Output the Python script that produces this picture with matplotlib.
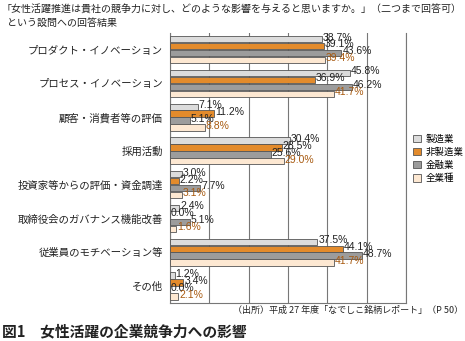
import numpy as np
import matplotlib.pyplot as plt

plt.rcParams['font.family'] = ['Noto Sans CJK JP', 'DejaVu Sans']

categories = ['プロダクト・イノベーション', 'プロセス・イノベーション', '顧客・消費者等の評価',
              '採用活動', '投資家等からの評価・資金調達', '取締役会のガバナンス機能改善',
              '従業員のモチベーション等', 'その他']
series_names = ['製造業', '非製造業', '金融業', '全業種']
manufacturing = [38.7, 45.8, 7.1, 30.4, 3.0, 2.4, 37.5, 1.2]
non_manufacturing = [39.1, 36.9, 11.2, 28.5, 2.2, 0.0, 44.1, 3.4]
finance = [43.6, 46.2, 5.1, 25.6, 7.7, 5.1, 48.7, 0.0]
all_industries = [39.4, 41.7, 8.8, 29.0, 3.1, 1.6, 41.7, 2.1]

series = [manufacturing, non_manufacturing, finance, all_industries]
colors = ['#dcdcdc', '#e38b2c', '#9c9c9c', '#fde8d2']
label_colors = ['#222222', '#222222', '#222222', '#a85a10']

fig = plt.figure(figsize=(4.65, 3.41), dpi=100)
ax = fig.add_axes([0.3656, 0.112, 0.5075, 0.792])

y = np.arange(len(categories))
h = 0.19
step = 0.205
for i, vals in enumerate(series):
    pos = y + (i - 1.5) * step
    ax.barh(pos, vals, height=h, color=colors[i], edgecolor='#555555',
            linewidth=0.6, label=series_names[i], zorder=3)
    for p, v in zip(pos, vals):
        ax.text(v + 0.2, p - 0.05, f'{v:.1f}%', fontsize=7.5, color=label_colors[i],
                va='center', ha='left', family=['Liberation Sans'], zorder=4)

ax.set_xlim(0, 60)
ax.set_ylim(7.5, -0.5)
ax.set_xticks(np.arange(0, 61, 10))
ax.xaxis.grid(True, color='#777777', linewidth=0.8, zorder=0)
ax.set_xticklabels([])
ax.tick_params(axis='both', length=0)
ax.set_yticks(y)
ax.set_yticklabels(categories, fontsize=7.5, color='#222222')
ax.tick_params(axis='y', pad=5)
ax.spines['top'].set_visible(False)
for s in ['left', 'right', 'bottom']:
    ax.spines[s].set_color('#777777')
    ax.spines[s].set_linewidth(0.8)

ax.legend(loc='center left', bbox_to_anchor=(413 / 465, 0.534), bbox_transform=fig.transFigure,
          frameon=False, fontsize=6.8, handlelength=0.85, handleheight=0.85, labelspacing=0.42,
          handletextpad=0.5, borderpad=0, borderaxespad=0)

fig.text(0.004, 0.970, '「女性活躍推進は貴社の競争力に対し、どのような影響を与えると思いますか。」（二つまで回答可）',
         fontsize=7.2, va='center', ha='left', color='#222222')
fig.text(0.016, 0.934, 'という設問への回答結果', fontsize=7.2, va='center', ha='left', color='#222222')
fig.text(0.995, 0.090, '（出所）平成 27 年度「なでしこ銘柄レポート」（P 50）', fontsize=6.5,
         va='center', ha='right', color='#222222')
fig.text(0.004, 0.029, '図1　女性活躍の企業競争力への影響', fontsize=10.6, fontweight='bold',
         va='center', ha='left', color='#222222')

fig.savefig('out.png', dpi=100)
